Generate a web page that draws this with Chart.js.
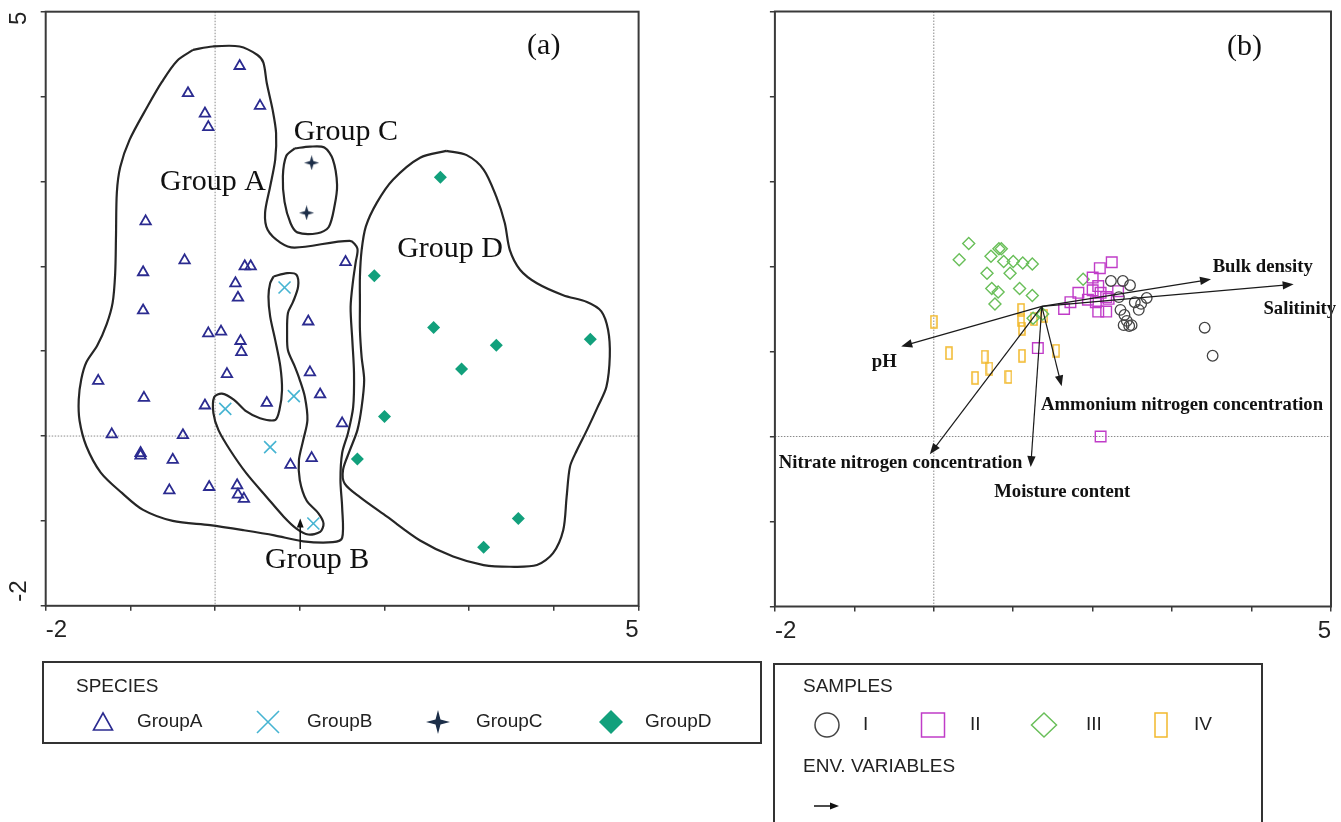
<!DOCTYPE html>
<html>
<head>
<meta charset="utf-8">
<script src="https://cdn.jsdelivr.net/npm/chart.js@4.4.1/dist/chart.umd.min.js"></script>
<style>
  body { margin:0; background:#fff; width:1341px; height:822px; overflow:hidden; position:relative; }
  canvas { position:absolute; top:0; }
  #cA { left:0; }
  #cB { left:766px; }
</style>
</head>
<body>
<canvas id="cA" width="766" height="822"></canvas>
<canvas id="cB" width="575" height="822"></canvas>
<script>
// axis range shared by both panels, only the ends are labelled
var axisMin = -2, axisMax = 5;
var axisLabels = ['-2', '5'];

// ---- (a) species scores ----
var groupA = [[0.29,4.36],[-0.32,4.04],[-0.12,3.80],[-0.08,3.64],[0.53,3.89],[-0.82,2.53],[-0.36,2.07],[-0.85,1.93],
  [0.35,2.00],[0.42,2.00],[0.24,1.80],[0.27,1.63],[-0.85,1.48],[1.54,2.05],[1.10,1.35],[-0.08,1.21],[0.07,1.23],
  [0.30,1.12],[0.31,0.99],[0.14,0.73],[-1.38,0.65],[1.12,0.75],[1.24,0.49],[-0.84,0.45],[-0.12,0.36],[0.61,0.39],
  [1.50,0.15],[-1.22,0.02],[-0.38,0.01],[-0.88,-0.20],[-0.88,-0.23],[-0.50,-0.28],[1.14,-0.26],[0.89,-0.34],
  [-0.54,-0.64],[-0.07,-0.60],[0.26,-0.58],[0.27,-0.69],[0.34,-0.74]];
var groupB = [[0.82,1.75],[0.12,0.32],[0.93,0.47],[0.65,-0.13],[1.16,-1.03]];
var groupC = [[1.14,3.22],[1.08,2.63]];
var groupD = [[2.66,3.05],[1.88,1.89],[2.58,1.28],[3.32,1.07],[4.43,1.14],[2.91,0.79],[2.00,0.23],[1.68,-0.27],
  [3.58,-0.97],[3.17,-1.31]];

// hand drawn group envelopes (data units)
var outlineA = [[-0.26,4.55],[-0.03,4.59],[0.29,4.59],[0.50,4.49],[0.57,4.40],[0.61,4.16],[0.68,3.84],[0.72,3.57],
  [0.71,3.26],[0.65,2.94],[0.59,2.63],[0.62,2.43],[0.77,2.28],[0.94,2.22],[1.59,2.30],[1.68,2.21],[1.66,2.05],
  [1.63,1.84],[1.60,1.52],[1.62,1.13],[1.64,0.74],[1.63,0.34],[1.57,0.04],[1.50,-0.20],[1.48,-0.52],[1.50,-0.84],
  [1.50,-1.20],[1.39,-1.25],[1.04,-1.24],[0.70,-1.17],[0.34,-1.11],[-0.06,-1.05],[-0.50,-1.00],[-0.85,-0.87],
  [-1.10,-0.67],[-1.35,-0.43],[-1.52,-0.12],[-1.60,0.18],[-1.61,0.43],[-1.58,0.67],[-1.52,0.87],[-1.39,1.07],
  [-1.28,1.32],[-1.21,1.57],[-1.18,1.91],[-1.17,2.36],[-1.16,2.87],[-1.12,3.17],[-1.01,3.49],[-0.80,3.88],
  [-0.63,4.17],[-0.45,4.42],[-0.26,4.55]];
var outlineB = [[0.69,1.88],[0.85,1.92],[0.96,1.90],[0.98,1.76],[0.92,1.58],[0.86,1.45],[0.85,1.21],[0.86,1.01],
  [0.94,0.82],[1.00,0.66],[1.06,0.46],[1.09,0.19],[1.04,-0.05],[0.99,-0.28],[1.00,-0.52],[1.08,-0.76],[1.22,-0.91],
  [1.28,-1.03],[1.24,-1.13],[1.10,-1.16],[0.96,-1.09],[0.81,-0.95],[0.61,-0.72],[0.37,-0.44],[0.18,-0.17],
  [0.04,0.07],[-0.02,0.27],[-0.01,0.46],[0.08,0.50],[0.22,0.43],[0.37,0.29],[0.53,0.21],[0.71,0.19],[0.76,0.31],
  [0.79,0.54],[0.77,0.82],[0.71,1.13],[0.65,1.41],[0.63,1.64],[0.65,1.80],[0.69,1.88]];
var outlineC = [[0.94,3.39],[1.12,3.41],[1.29,3.40],[1.39,3.26],[1.44,2.96],[1.41,2.71],[1.34,2.46],[1.21,2.39],
  [0.97,2.40],[0.89,2.51],[0.82,2.76],[0.80,3.06],[0.84,3.30],[0.94,3.39]];
var outlineD = [[2.73,3.36],[2.97,3.31],[3.17,3.14],[3.32,2.82],[3.42,2.51],[3.48,2.19],[3.60,1.96],[3.80,1.80],
  [4.11,1.66],[4.39,1.58],[4.56,1.47],[4.64,1.25],[4.66,0.94],[4.62,0.58],[4.52,0.35],[4.39,0.07],[4.27,-0.17],
  [4.19,-0.36],[4.15,-0.72],[4.11,-1.11],[3.99,-1.38],[3.80,-1.52],[3.48,-1.54],[3.17,-1.52],[2.81,-1.42],
  [2.42,-1.23],[2.03,-0.95],[1.71,-0.72],[1.53,-0.56],[1.51,-0.40],[1.59,-0.17],[1.68,0.07],[1.73,0.34],
  [1.76,0.66],[1.73,0.93],[1.71,1.25],[1.71,1.57],[1.71,1.88],[1.73,2.19],[1.78,2.47],[1.91,2.75],[2.10,3.02],
  [2.42,3.28],[2.73,3.36]];

var groupNames = ['Group A', 'Group B', 'Group C', 'Group D'];
var speciesLegend = ['GroupA', 'GroupB', 'GroupC', 'GroupD'];

// ---- (b) sample scores and environmental variables ----
var samplesI = [[2.23,1.83],[2.38,1.83],[2.47,1.78],[2.33,1.64],[2.53,1.58],[2.61,1.56],[2.68,1.63],[2.58,1.49],
  [2.35,1.49],[2.40,1.43],[2.43,1.36],[2.39,1.31],[2.46,1.30],[2.49,1.31],[3.41,1.28],[3.51,0.95]];
var samplesII = [[2.24,2.05],[2.09,1.98],[2.00,1.87],[2.07,1.77],[2.32,1.71],[1.82,1.69],[1.72,1.58],[1.64,1.50],
  [1.94,1.61],[2.00,1.72],[2.10,1.69],[2.17,1.64],[2.20,1.62],[2.04,1.58],[2.07,1.47],[2.17,1.47],[1.31,1.04],[2.10,0.00]];
var samplesIII = [[0.44,2.27],[0.32,2.08],[0.72,2.12],[0.82,2.21],[0.85,2.21],[0.88,2.06],[1.00,2.06],[1.12,2.04],
  [1.24,2.03],[0.67,1.92],[0.96,1.92],[0.73,1.74],[0.81,1.70],[1.08,1.74],[1.24,1.66],[0.77,1.56],[1.88,1.85],
  [1.25,1.39],[1.37,1.44]];
var samplesIV = [[0.00,1.35],[1.10,1.49],[1.10,1.37],[1.11,1.27],[1.26,1.38],[1.39,1.42],[0.19,0.98],[0.64,0.94],
  [0.70,0.80],[0.52,0.69],[1.11,0.95],[0.94,0.70],[1.54,1.01]];
var sampleNames = ['I', 'II', 'III', 'IV'];

var envOrigin = [1.36, 1.53];
var envNames = ['Bulk density', 'Salitinity', 'pH', 'Ammonium nitrogen concentration',
  'Nitrate nitrogen concentration', 'Moisture content'];
var envTipX = [3.49, 4.53, -0.41, 1.61, -0.05, 1.22];
var envTipY = [1.85, 1.79, 1.06, 0.59, -0.21, -0.36];

// where the text labels sit (data units, left / baseline)
var groupLabelPos = [[-0.65,2.90],[0.59,-1.56],[0.93,3.49],[2.15,2.11]];
var groupBPointer = [[1.005,-1.33],[1.005,-0.97]];
var envLabelPos = [[3.51,1.93],[4.15,1.44],[-0.78,0.82],[1.35,0.31],[-1.95,-0.37],[0.76,-0.71]];

var INK = '#222';
var colA = '#2b2b90', colB = '#46b4d2', colC = '#1c2e48', colD = '#12a07c';
var colI = '#444', colII = '#c03cc8', colIII = '#6abf5a', colIV = '#f2b92c';

function pts(arr) { return arr.map(function(p) { return {x: p[0], y: p[1]}; }); }

function starPath(g, cx, cy, r, ri) {
  g.beginPath();
  for (var i = 0; i < 8; i++) {
    var a = i * Math.PI / 4 - Math.PI / 2, rr = (i % 2) ? ri : r;
    g.lineTo(cx + rr * Math.cos(a), cy + rr * Math.sin(a));
  }
  g.closePath();
}
function starCanvas(size, color) {
  var c = document.createElement('canvas');
  c.width = c.height = size;
  var g = c.getContext('2d');
  g.fillStyle = color;
  starPath(g, size / 2, size / 2, size / 2, size * 0.16);
  g.fill();
  return c;
}
function barCanvas(w, h, color) {
  var c = document.createElement('canvas');
  c.width = w; c.height = h;
  var g = c.getContext('2d');
  g.strokeStyle = color; g.lineWidth = 1.5;
  g.strokeRect(1, 1, w - 2, h - 2);
  return c;
}

function drawArrow(ctx, a, b, head) {
  var ang = Math.atan2(b[1] - a[1], b[0] - a[0]);
  ctx.beginPath(); ctx.moveTo(a[0], a[1]);
  ctx.lineTo(b[0] - head * 0.6 * Math.cos(ang), b[1] - head * 0.6 * Math.sin(ang)); ctx.stroke();
  var w = head * 0.38;
  ctx.beginPath();
  ctx.moveTo(b[0], b[1]);
  ctx.lineTo(b[0] - head * Math.cos(ang) + w * Math.sin(ang), b[1] - head * Math.sin(ang) - w * Math.cos(ang));
  ctx.lineTo(b[0] - head * Math.cos(ang) - w * Math.sin(ang), b[1] - head * Math.sin(ang) + w * Math.cos(ang));
  ctx.closePath(); ctx.fill();
}

function toPx(chart, x, y) {
  return [chart.scales.x.getPixelForValue(x), chart.scales.y.getPixelForValue(y)];
}

// dotted zero lines, frame and end labels
var framePlugin = {
  id: 'frame',
  beforeDatasetsDraw: function(chart) {
    var ctx = chart.ctx, a = chart.chartArea;
    var x0 = chart.scales.x.getPixelForValue(0), y0 = chart.scales.y.getPixelForValue(0);
    ctx.save();
    ctx.strokeStyle = '#8a8a8a'; ctx.lineWidth = 1; ctx.setLineDash([1.5, 1.5]);
    ctx.beginPath();
    ctx.moveTo(x0, a.top); ctx.lineTo(x0, a.bottom);
    ctx.moveTo(a.left, y0); ctx.lineTo(a.right, y0);
    ctx.stroke();
    ctx.restore();
  },
  afterDraw: function(chart, args, opts) {
    var ctx = chart.ctx, a = chart.chartArea;
    ctx.save();
    ctx.strokeStyle = '#3a3a3a'; ctx.lineWidth = 2;
    ctx.strokeRect(a.left, a.top, a.right - a.left, a.bottom - a.top);
    ctx.fillStyle = INK;
    ctx.font = '24px "Liberation Sans", Arial, sans-serif';
    ctx.textBaseline = 'alphabetic';
    ctx.textAlign = 'left';
    ctx.fillText(axisLabels[0], chart.scales.x.getPixelForValue(axisMin), a.bottom + 31);
    ctx.textAlign = 'right';
    ctx.fillText(axisLabels[1], chart.scales.x.getPixelForValue(axisMax), a.bottom + 31);
    if (opts.yLabels) {
      ctx.textBaseline = 'middle';
      var lx = a.left - 26;
      ctx.save(); ctx.translate(lx, chart.scales.y.getPixelForValue(axisMax)); ctx.rotate(-Math.PI / 2);
      ctx.textAlign = 'right'; ctx.fillText(axisLabels[1], 0, 0); ctx.restore();
      ctx.save(); ctx.translate(lx, chart.scales.y.getPixelForValue(axisMin) - 4); ctx.rotate(-Math.PI / 2);
      ctx.textAlign = 'left'; ctx.fillText(axisLabels[0], 0, 0); ctx.restore();
    }
    ctx.restore();
  }
};

function scales(yWidth, xHeight) {
  var grid = {drawOnChartArea: false, drawTicks: true, tickLength: 5, color: '#3a3a3a', lineWidth: 1.5};
  return {
    x: {type: 'linear', min: axisMin, max: axisMax, ticks: {display: false, stepSize: 1}, grid: grid,
        border: {display: false}, afterFit: function(s) { s.height = xHeight; }},
    y: {type: 'linear', min: axisMin, max: axisMax, ticks: {display: false, stepSize: 1}, grid: grid,
        border: {display: false}, afterFit: function(s) { s.width = yWidth; }}
  };
}

var common = {
  responsive: false, animation: false, events: [],
  plugins: {legend: {display: false}, tooltip: {enabled: false}}
};

function outlineSet(arr) {
  return {data: pts(arr), showLine: true, pointRadius: 0, borderColor: '#262626', borderWidth: 2.2,
          tension: 0.3, fill: false};
}

// ---------- panel (a) ----------
var panelAPlugin = {
  id: 'panelA',
  afterDraw: function(chart) {
    var ctx = chart.ctx;
    ctx.save();
    ctx.fillStyle = '#111';
    ctx.font = '30px "Liberation Serif", "Times New Roman", serif';
    ctx.textAlign = 'left'; ctx.textBaseline = 'alphabetic';
    groupNames.forEach(function(n, i) {
      var p = toPx(chart, groupLabelPos[i][0], groupLabelPos[i][1]);
      ctx.fillText(n, p[0], p[1]);
    });
    ctx.textAlign = 'center'; ctx.textBaseline = 'middle';
    var pa = toPx(chart, 3.88, 4.60);
    ctx.fillText('(a)', pa[0], pa[1]);
    ctx.strokeStyle = '#111'; ctx.lineWidth = 1.5;
    drawArrow(ctx, toPx(chart, groupBPointer[0][0], groupBPointer[0][1]),
              toPx(chart, groupBPointer[1][0], groupBPointer[1][1]), 9);

    // species legend
    ctx.strokeStyle = '#333'; ctx.lineWidth = 2;
    ctx.strokeRect(43, 662, 718, 81);
    ctx.fillStyle = INK;
    ctx.font = '19px "Liberation Sans", Arial, sans-serif';
    ctx.textAlign = 'left'; ctx.textBaseline = 'middle';
    ctx.fillText('SPECIES', 76, 687);
    var ly = 722, sx = [103, 268, 438, 611], tx = [137, 307, 476, 645];
    speciesLegend.forEach(function(n, i) { ctx.fillText(n, tx[i], ly); });
    ctx.lineWidth = 1.6;
    ctx.strokeStyle = colA;
    ctx.beginPath(); ctx.moveTo(sx[0] - 9.5, ly + 8); ctx.lineTo(sx[0] + 9.5, ly + 8); ctx.lineTo(sx[0], ly - 9);
    ctx.closePath(); ctx.stroke();
    ctx.strokeStyle = colB;
    ctx.beginPath(); ctx.moveTo(sx[1] - 11, ly - 11); ctx.lineTo(sx[1] + 11, ly + 11);
    ctx.moveTo(sx[1] + 11, ly - 11); ctx.lineTo(sx[1] - 11, ly + 11); ctx.stroke();
    ctx.fillStyle = colC;
    starPath(ctx, sx[2], ly, 12, 3.5); ctx.fill();
    ctx.fillStyle = colD;
    ctx.beginPath(); ctx.moveTo(sx[3], ly - 12); ctx.lineTo(sx[3] + 12, ly); ctx.lineTo(sx[3], ly + 12);
    ctx.lineTo(sx[3] - 12, ly); ctx.closePath(); ctx.fill();
    ctx.restore();
  }
};

new Chart(document.getElementById('cA'), {
  type: 'scatter',
  data: {
    datasets: [
      {data: pts(groupA), pointStyle: 'triangle', pointRadius: 6, borderColor: colA,
       backgroundColor: 'rgba(0,0,0,0)', pointBorderWidth: 1.8},
      {data: pts(groupB), pointStyle: 'crossRot', pointRadius: 8.5, borderColor: colB, pointBorderWidth: 1.6},
      {data: pts(groupC), pointStyle: starCanvas(15, colC), pointRadius: 7},
      {data: pts(groupD), pointStyle: 'rectRot', pointRadius: 6.5, borderColor: colD, backgroundColor: colD,
       pointBorderWidth: 0},
      outlineSet(outlineA), outlineSet(outlineB), outlineSet(outlineC), outlineSet(outlineD)
    ]
  },
  options: Object.assign({}, common, {
    layout: {padding: {left: 0, top: 11.7, right: 127.4, bottom: 0}},
    scales: scales(45.7, 216.2),
    plugins: Object.assign({}, common.plugins, {frame: {yLabels: true}})
  }),
  plugins: [framePlugin, panelAPlugin]
});

// ---------- panel (b) ----------
var panelBPlugin = {
  id: 'panelB',
  afterDatasetsDraw: function(chart) {
    var ctx = chart.ctx;
    ctx.save();
    ctx.strokeStyle = '#1a1a1a'; ctx.fillStyle = '#1a1a1a'; ctx.lineWidth = 1.2;
    var o = toPx(chart, envOrigin[0], envOrigin[1]);
    envNames.forEach(function(n, i) { drawArrow(ctx, o, toPx(chart, envTipX[i], envTipY[i]), 11); });
    ctx.fillStyle = '#111';
    ctx.font = 'bold 18.7px "Liberation Serif", "Times New Roman", serif';
    ctx.textAlign = 'left'; ctx.textBaseline = 'alphabetic';
    envNames.forEach(function(n, i) {
      var p = toPx(chart, envLabelPos[i][0], envLabelPos[i][1]);
      ctx.fillText(n, p[0], p[1]);
    });
    ctx.font = '30px "Liberation Serif", "Times New Roman", serif';
    ctx.textAlign = 'center'; ctx.textBaseline = 'middle';
    var pb = toPx(chart, 3.91, 4.58);
    ctx.fillText('(b)', pb[0], pb[1]);
    ctx.restore();
  },
  afterDraw: function(chart) {
    var ctx = chart.ctx;
    ctx.save();
    // samples legend (box runs off the bottom of the page)
    ctx.strokeStyle = '#333'; ctx.lineWidth = 2;
    ctx.strokeRect(8, 664, 488, 200);
    ctx.fillStyle = INK;
    ctx.font = '19px "Liberation Sans", Arial, sans-serif';
    ctx.textAlign = 'left'; ctx.textBaseline = 'middle';
    ctx.fillText('SAMPLES', 37, 687);
    ctx.fillText('ENV. VARIABLES', 37, 767);
    var ly = 725, sx = [61, 167, 278, 395], tx = [97, 204, 320, 428];
    sampleNames.forEach(function(n, i) { ctx.fillText(n, tx[i], ly); });
    ctx.lineWidth = 1.5;
    ctx.strokeStyle = colI;
    ctx.beginPath(); ctx.ellipse(sx[0], ly, 12, 12, 0, 0, Math.PI * 2); ctx.stroke();
    ctx.strokeStyle = colII;
    ctx.strokeRect(sx[1] - 11.5, ly - 12, 23, 24);
    ctx.strokeStyle = colIII;
    ctx.beginPath(); ctx.moveTo(sx[2], ly - 12); ctx.lineTo(sx[2] + 12.5, ly); ctx.lineTo(sx[2], ly + 12);
    ctx.lineTo(sx[2] - 12.5, ly); ctx.closePath(); ctx.stroke();
    ctx.strokeStyle = colIV;
    ctx.strokeRect(sx[3] - 6, ly - 12, 12, 24);
    ctx.strokeStyle = '#111'; ctx.fillStyle = '#111'; ctx.lineWidth = 1.5;
    drawArrow(ctx, [48, 806], [73, 806], 9);
    ctx.restore();
  }
};

new Chart(document.getElementById('cB'), {
  type: 'scatter',
  data: {
    datasets: [
      {data: pts(samplesI), pointStyle: 'circle', pointRadius: 5.3, borderColor: colI,
       backgroundColor: 'rgba(0,0,0,0)', pointBorderWidth: 1.3},
      {data: pts(samplesII), pointStyle: 'rect', pointRadius: 7.5, borderColor: colII,
       backgroundColor: 'rgba(0,0,0,0)', pointBorderWidth: 1.4},
      {data: pts(samplesIII), pointStyle: 'rectRot', pointRadius: 6, borderColor: colIII,
       backgroundColor: 'rgba(0,0,0,0)', pointBorderWidth: 1.4},
      {data: pts(samplesIV), pointStyle: barCanvas(8, 14, colIV), pointRadius: 6}
    ]
  },
  options: Object.assign({}, common, {
    layout: {padding: {left: 0, top: 11.5, right: 10, bottom: 0}},
    scales: scales(6.7, 215.5),
    plugins: Object.assign({}, common.plugins, {frame: {yLabels: false}})
  }),
  plugins: [framePlugin, panelBPlugin]
});
</script>
</body>
</html>
